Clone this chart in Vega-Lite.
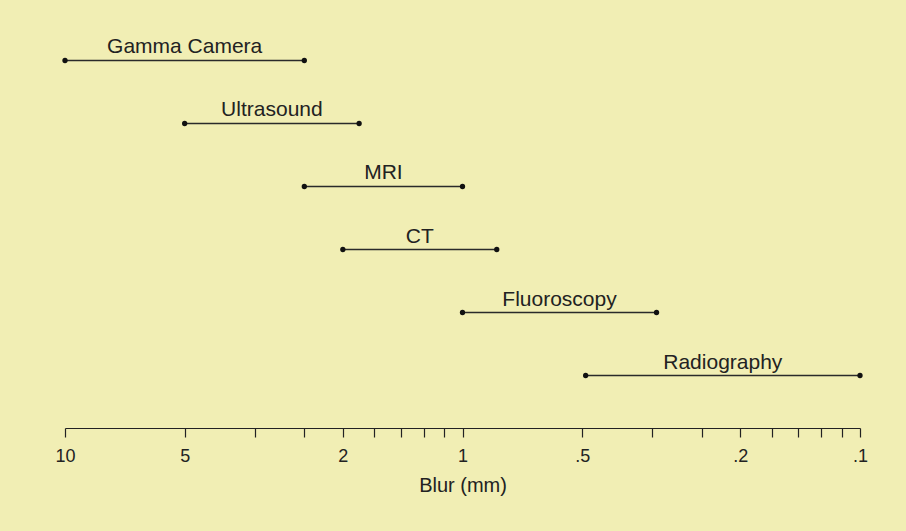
{
  "$schema": "https://vega.github.io/schema/vega-lite/v6.json",
  "width": 795,
  "height": 420,
  "autosize": {"type": "none"},
  "padding": {"left": 65, "top": 8, "right": 46, "bottom": 103},
  "background": "#f1eeb4",
  "config": {"view": {"stroke": null}, "font": "Liberation Sans"},
  "data": {"values": [
    {"modality": "Gamma Camera", "from": 10, "to": 2.5},
    {"modality": "Ultrasound", "from": 5, "to": 1.82},
    {"modality": "MRI", "from": 2.5, "to": 1},
    {"modality": "CT", "from": 2, "to": 0.82},
    {"modality": "Fluoroscopy", "from": 1, "to": 0.325},
    {"modality": "Radiography", "from": 0.49, "to": 0.1}
  ]},
  "encoding": {
    "y": {"field": "modality", "type": "nominal", "sort": null, "scale": {"type": "point", "padding": 0.833}, "axis": null}
  },
  "layer": [
    {
      "mark": {"type": "rule", "color": "#2a2a2a", "strokeWidth": 1.6},
      "encoding": {
        "x": {"field": "from", "type": "quantitative",
          "scale": {"type": "log", "domain": [0.1, 10], "reverse": true, "nice": false},
          "axis": {
            "title": "Blur (mm)",
            "values": [10, 5, 3.3333333, 2.5, 2, 1.6666667, 1.4285714, 1.25, 1.1111111, 1, 0.5, 0.3333333, 0.25, 0.2, 0.1666667, 0.1428571, 0.125, 0.1111111, 0.1],
            "labelExpr": "datum.value==10?'10':datum.value==5?'5':datum.value==2?'2':datum.value==1?'1':datum.value==0.5?'.5':datum.value==0.2?'.2':datum.value==0.1?'.1':''",
            "labelOverlap": false,
            "labelFlush": false,
            "grid": false,
            "domainColor": "#222",
            "domainWidth": 1.2,
            "tickColor": "#222",
            "tickWidth": 1.2,
            "tickSize": 9,
            "labelFontSize": 18,
            "labelColor": "#222",
            "labelPadding": 10,
            "titleFontSize": 20,
            "titleFontWeight": "normal",
            "titleColor": "#222",
            "titlePadding": 10
          }
        },
        "x2": {"field": "to"}
      }
    },
    {
      "mark": {"type": "circle", "color": "#111", "size": 28, "opacity": 1},
      "encoding": {"x": {"field": "from", "type": "quantitative"}}
    },
    {
      "mark": {"type": "circle", "color": "#111", "size": 28, "opacity": 1},
      "encoding": {"x": {"field": "to", "type": "quantitative"}}
    },
    {
      "transform": [{"calculate": "sqrt(datum.from*datum.to)", "as": "mid"}],
      "mark": {"type": "text", "fontSize": 21, "dy": -7, "baseline": "alphabetic", "color": "#222"},
      "encoding": {
        "x": {"field": "mid", "type": "quantitative"},
        "text": {"field": "modality"}
      }
    }
  ]
}
